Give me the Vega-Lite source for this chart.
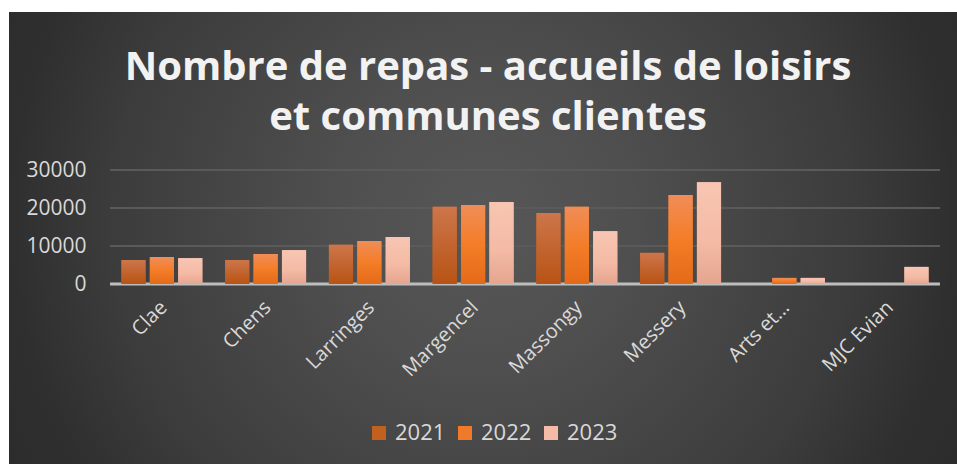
{
  "$schema": "https://vega.github.io/schema/vega-lite/v6.json",
  "width": 948,
  "height": 452,
  "autosize": "none",
  "padding": {"left": 9, "top": 12, "right": 0, "bottom": 0},
  "background": "#ffffff",
  "title": {
    "text": ["Nombre de repas - accueils de loisirs", "et communes clientes"],
    "anchor": "middle",
    "frame": "group",
    "dx": 5,
    "offset": -126,
    "fontSize": 40,
    "lineHeight": 50,
    "font": "Open Sans",
    "fontWeight": "bold",
    "color": "#f2f2f2"
  },
  "data": {
    "values": [
      {"site": "Clae", "annee": "2021", "repas": 6300},
      {"site": "Clae", "annee": "2022", "repas": 7100},
      {"site": "Clae", "annee": "2023", "repas": 6800},
      {"site": "Chens", "annee": "2021", "repas": 6300},
      {"site": "Chens", "annee": "2022", "repas": 7900},
      {"site": "Chens", "annee": "2023", "repas": 8900},
      {"site": "Larringes", "annee": "2021", "repas": 10300},
      {"site": "Larringes", "annee": "2022", "repas": 11300},
      {"site": "Larringes", "annee": "2023", "repas": 12400},
      {"site": "Margencel", "annee": "2021", "repas": 20300},
      {"site": "Margencel", "annee": "2022", "repas": 20800},
      {"site": "Margencel", "annee": "2023", "repas": 21600},
      {"site": "Massongy", "annee": "2021", "repas": 18700},
      {"site": "Massongy", "annee": "2022", "repas": 20300},
      {"site": "Massongy", "annee": "2023", "repas": 13900},
      {"site": "Messery", "annee": "2021", "repas": 8200},
      {"site": "Messery", "annee": "2022", "repas": 23400},
      {"site": "Messery", "annee": "2023", "repas": 26800},
      {"site": "Arts et...", "annee": "2021", "repas": 0},
      {"site": "Arts et...", "annee": "2022", "repas": 1600},
      {"site": "Arts et...", "annee": "2023", "repas": 1600},
      {"site": "MJC Evian", "annee": "2021", "repas": 0},
      {"site": "MJC Evian", "annee": "2022", "repas": 0},
      {"site": "MJC Evian", "annee": "2023", "repas": 4500}
    ]
  },
  "encoding": {
    "y": {
      "field": "repas",
      "type": "quantitative",
      "scale": {"domain": [-47368, 71579], "nice": false, "zero": false},
      "axis": {
        "title": null,
        "values": [0, 10000, 20000, 30000],
        "format": "d",
        "offset": -101,
        "labelFontSize": 21,
        "labelFont": "Open Sans",
        "labelColor": "#d9d9d9",
        "labelPadding": 24,
        "ticks": false,
        "domain": false,
        "grid": false
      }
    }
  },
  "layer": [
    {
      "data": {"values": [{"repas": 10000}, {"repas": 20000}, {"repas": 30000}]},
      "mark": {"type": "rule", "color": "#5a5a5a", "strokeWidth": 2, "xOffset": -11.4, "x2Offset": 11.4},
      "encoding": {
        "x": {"datum": "Clae", "type": "nominal", "bandPosition": 0},
        "x2": {"datum": "MJC Evian", "bandPosition": 1}
      }
    },
    {
      "data": {"values": [{"repas": 0}]},
      "mark": {"type": "rule", "color": "#bdbdbd", "strokeWidth": 3, "xOffset": -11.4, "x2Offset": 11.4},
      "encoding": {
        "x": {"datum": "Clae", "type": "nominal", "bandPosition": 0},
        "x2": {"datum": "MJC Evian", "bandPosition": 1}
      }
    },
    {
      "mark": {"type": "bar"},
      "encoding": {
        "x": {
          "field": "site",
          "type": "nominal",
          "sort": null,
          "scale": {
            "domain": ["Clae", "Chens", "Larringes", "Margencel", "Massongy", "Messery", "Arts et...", "MJC Evian"],
            "paddingInner": 0.22,
            "paddingOuter": 0.679,
            "align": 0.798
          },
          "axis": {
            "title": null,
            "offset": -180,
            "labelAngle": -45,
            "labelFontSize": 20,
            "labelFont": "Open Sans",
            "labelColor": "#d9d9d9",
            "labelPadding": 20,
            "labelOffset": 2,
            "ticks": false,
            "domain": false
          }
        },
        "xOffset": {"field": "annee", "type": "nominal", "scale": {"domain": ["2021", "2022", "2023"], "paddingInner": 0.15}},
        "color": {
          "field": "annee",
          "type": "nominal",
          "scale": {"domain": ["2021", "2022", "2023"], "range": ["#c2601f", "#ef7a2a", "#f4bca6"]},
          "legend": {
            "title": null,
            "orient": "none",
            "direction": "horizontal",
            "legendX": 359,
            "legendY": 410,
            "symbolType": "square",
            "symbolSize": 196,
            "symbolStrokeWidth": 0,
            "labelFontSize": 22,
            "labelFont": "Open Sans",
            "labelColor": "#d9d9d9",
            "labelOffset": 5,
            "columnPadding": 8
          }
        }
      }
    },
    {
      "transform": [{"filter": "datum.annee == '2021'"}],
      "mark": {"type": "bar", "fill": {"gradient": "linear", "x1": 0, "y1": 0, "x2": 0, "y2": 1, "stops": [{"offset": 0, "color": "#cd764b"}, {"offset": 1, "color": "#b85314"}]}},
      "encoding": {
        "x": {"field": "site", "type": "nominal", "sort": null},
        "xOffset": {"field": "annee", "type": "nominal"}
      }
    },
    {
      "transform": [{"filter": "datum.annee == '2022'"}],
      "mark": {"type": "bar", "fill": {"gradient": "linear", "x1": 0, "y1": 0, "x2": 0, "y2": 1, "stops": [{"offset": 0, "color": "#f08d58"}, {"offset": 0.5, "color": "#f47d28"}, {"offset": 1, "color": "#e46a17"}]}},
      "encoding": {
        "x": {"field": "site", "type": "nominal", "sort": null},
        "xOffset": {"field": "annee", "type": "nominal"}
      }
    },
    {
      "transform": [{"filter": "datum.annee == '2023'"}],
      "mark": {"type": "bar", "fill": {"gradient": "linear", "x1": 0, "y1": 0, "x2": 0, "y2": 1, "stops": [{"offset": 0, "color": "#f7c6b3"}, {"offset": 0.6, "color": "#f4baa4"}, {"offset": 1, "color": "#e5a58f"}]}},
      "encoding": {
        "x": {"field": "site", "type": "nominal", "sort": null},
        "xOffset": {"field": "annee", "type": "nominal"}
      }
    }
  ],
  "config": {
    "view": {
      "stroke": null,
      "fill": {
        "gradient": "radial",
        "x1": 0.5, "y1": 0.48, "r1": 0,
        "x2": 0.5, "y2": 0.48, "r2": 0.71,
        "stops": [
          {"offset": 0, "color": "#575757"},
          {"offset": 0.22, "color": "#4f4f4f"},
          {"offset": 0.55, "color": "#3c3c3c"},
          {"offset": 0.7, "color": "#2f2f2f"},
          {"offset": 1, "color": "#252525"}
        ]
      }
    }
  }
}
